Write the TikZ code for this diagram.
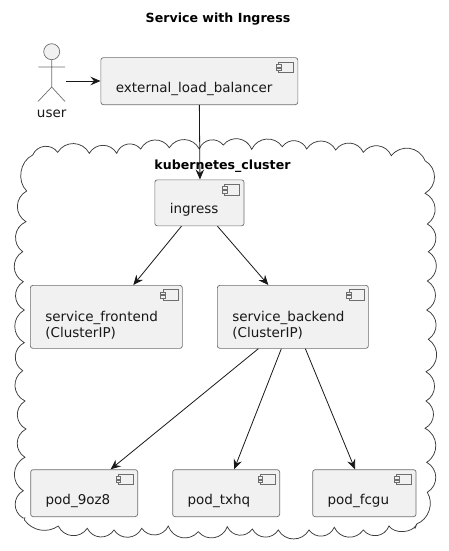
\documentclass[tikz,border=0pt]{standalone}
\usepackage{fontspec}
\setmainfont{DejaVu Sans}
\usetikzlibrary{arrows.meta}
\definecolor{boxfill}{HTML}{F1F1F1}
\definecolor{boxline}{HTML}{6E6E6E}
\definecolor{ink}{HTML}{181818}
\tikzset{
  compbox/.style={draw=boxline,fill=boxfill,line width=0.7pt,rounded corners=2.5pt,anchor=north west,
    inner xsep=15pt,inner ysep=0pt,align=left,font=\fontsize{13.5}{16}\selectfont,text=ink,text depth=0pt,text height=22pt},
  twoline/.style={text height=9pt,text depth=0pt},
  flow/.style={draw=ink,line width=0.8pt,-{Stealth[length=10pt,width=8.5pt,inset=3.5pt]}},
  cl/.style={bend left=60,looseness=1.15},
  cloudline/.style={draw=ink!85,line width=0.75pt},
  actorline/.style={draw=boxline,line width=0.7pt},
  titletext/.style={font=\fontsize{12.6}{15}\bfseries\selectfont,text=black,inner sep=0pt}
}
\newcommand{\compicon}[1]{%
  \draw[boxline,line width=0.6pt,fill=boxfill] ([xshift=-19.8pt,yshift=-4.7pt]#1.north east) rectangle ([xshift=-4.8pt,yshift=-15.4pt]#1.north east);
  \draw[boxline,line width=0.6pt,fill=boxfill] ([xshift=-22.2pt,yshift=-7pt]#1.north east) rectangle ([xshift=-17.4pt,yshift=-9.7pt]#1.north east);
  \draw[boxline,line width=0.6pt,fill=boxfill] ([xshift=-22.2pt,yshift=-10.7pt]#1.north east) rectangle ([xshift=-17.4pt,yshift=-13.4pt]#1.north east);
}
\begin{document}
\begin{tikzpicture}[x=1pt,y=-1pt]
\useasboundingbox (0,0) rectangle (448,551);
\node[titletext] (title) at (218,19) {Service with Ingress};
% cloud
\draw[cloudline] (32.7,155) to[cl] (57.7,152.3) to[cl] (89.3,153.3) to[cl] (116.7,153.3) to[cl] (140.7,149)
 to[cl] (169.3,147.7) to[cl] (199.3,149) to[cl] (223.3,145) to[cl] (251.7,149.3) to[cl] (282.3,146.7)
 to[cl] (306.7,149) to[cl] (335.7,150) to[cl] (363.3,152.3) to[cl] (391.3,155.7) to[cl] (425,160.7)
 to[cl] (425,193.3) to[cl] (427.3,224) to[cl] (428.3,251.7) to[cl] (427.3,281) to[cl] (426.7,310)
 to[cl] (428.3,339.3) to[cl] (426,371.7) to[cl] (426,401) to[cl] (425,428.3) to[cl] (426.7,462.3)
 to[cl] (427.3,492.3) to[bend left=50] (416.7,524) -- (415,528.5) (416.7,524.5) to[bend left=60,looseness=0.9] (389,526) to[cl] (363.3,530) to[cl] (334.3,527.3)
 to[cl] (309,530) to[cl] (278.3,530) to[cl] (252.3,529) to[cl] (227.3,526.7) to[cl] (198.3,531.7)
 to[cl] (168.3,526) to[cl] (141.7,528.3) to[cl] (114,530) to[cl] (87.3,528.3) to[cl] (58.3,526)
 to[bend left=45] (24.5,520) .. controls (26,518.5) and (24.5,516.5) .. (23,518) to[cl] (23.3,490.7) to[cl] (25,457.3) to[cl] (26,429) to[cl] (25,401)
 to[cl] (22.7,370.7) to[cl] (24.3,342.7) to[cl] (24.3,310) to[cl] (23.3,281.7) to[cl] (22.7,251.7)
 to[cl] (26,221.7) to[cl] (26.7,191) to[bend left=55] (32.7,155);
\node[titletext] (clusterlabel) at (222.5,166) {kubernetes\_cluster};
% actor
\node[circle,draw=boxline,fill=boxfill,line width=0.7pt,minimum size=16pt,inner sep=0pt] (head) at (51.7,51.7) {};
\coordinate (hip) at (51.7,87);
\coordinate (armL) at (38.3,67);
\coordinate (armR) at (65,67);
\coordinate (legL) at (38,101.5);
\coordinate (legR) at (65,101.5);
\draw[actorline] (head.south) -- (hip) -- (legL) (hip) -- (legR) (armL) -- (armR);
\node[font=\fontsize{13.5}{15}\selectfont,text=ink,inner sep=0pt,anchor=base] (user) at (51.7,117) {user};
% boxes
\node[compbox,text width=167pt,minimum height=47pt] (elb) at (100.5,57.3) {external\_load\_balancer};
\node[compbox,text width=59.2pt,minimum height=46pt] (ingress) at (154.5,179.5) {ingress};
\node[compbox,twoline,text width=122pt,minimum height=63pt] (frontend) at (30,285) {service\_frontend\\(ClusterIP)};
\node[compbox,twoline,text width=121pt,minimum height=63pt] (backend) at (217,285) {service\_backend\\(ClusterIP)};
\node[compbox,text width=77pt,minimum height=47pt] (pa) at (30.3,469.3) {pod\_9oz8};
\node[compbox,text width=77pt,minimum height=47pt] (pb) at (172.3,469.3) {pod\_txhq};
\node[compbox,text width=73.4pt,minimum height=47pt] (pc) at (312.3,469.3) {pod\_fcgu};
\compicon{elb}\compicon{ingress}\compicon{frontend}\compicon{backend}\compicon{pa}\compicon{pb}\compicon{pc}
% connectors
\coordinate (userout) at (66,81);
\draw[flow] (userout) -- (elb.west |- userout);
\draw[flow] (elb.south) -- ([xshift=0.5pt]ingress.north);
\draw[flow] ([xshift=-18pt]ingress.south) -- ([xshift=27pt]frontend.north);
\draw[flow] ([xshift=18pt]ingress.south) -- ([xshift=-24.5pt]backend.north);
\draw[flow] ([xshift=-34.5pt]backend.south) -- ([xshift=26.5pt]pa.north);
\draw[flow] ([xshift=-11.5pt]backend.south) -- ([xshift=8pt]pb.north);
\draw[flow] ([xshift=12.5pt]backend.south) -- ([xshift=-9.3pt]pc.north);
\end{tikzpicture}
\end{document}
